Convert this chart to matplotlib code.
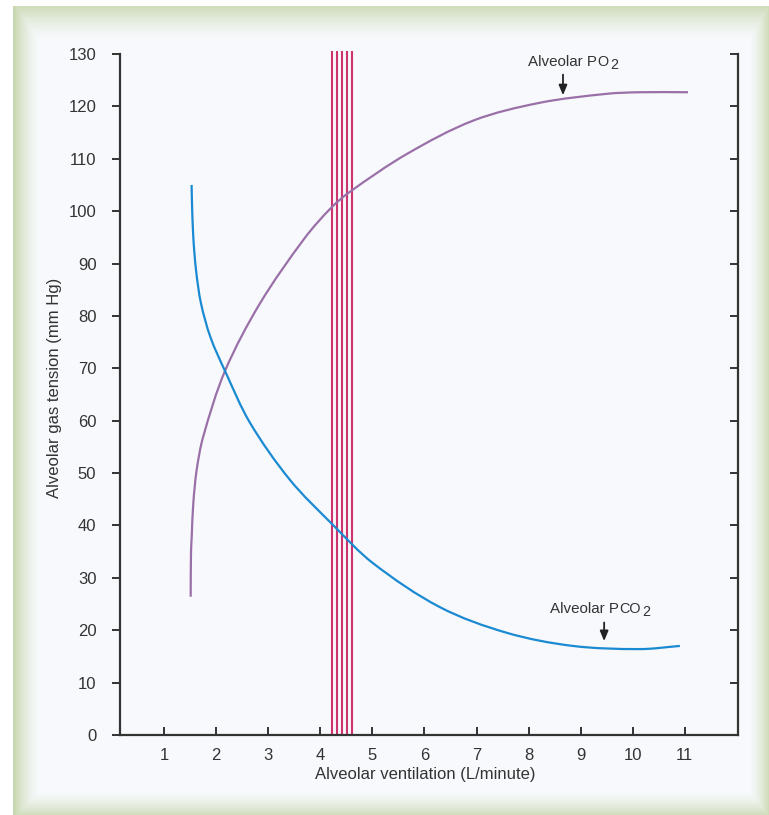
import numpy as np
import matplotlib
matplotlib.use("Agg")
import matplotlib.pyplot as plt
from matplotlib.path import Path
from matplotlib.patches import PathPatch

# ---- data ----
po2_x = [1.512, 1.518, 1.532, 1.562, 1.627, 1.754, 2.171, 2.843, 3.697, 4.205, 4.570,
         5.660, 6.940, 8.221, 9.501, 10.140, 11.060]
po2_y = [26.4, 34.7, 37.9, 44.2, 50.6, 57.0, 69.5, 82.4, 94.8, 100.6, 103.7,
         110.9, 117.3, 120.7, 122.4, 122.7, 122.7]

pco2_x = [1.530, 1.537, 1.562, 1.614, 1.710, 1.893, 2.171, 2.651, 3.418, 4.244, 5.012,
          6.298, 7.584, 8.851, 10.137, 10.904]
pco2_y = [105.0, 101.6, 95.1, 88.8, 82.4, 75.9, 69.5, 59.6, 48.7, 40.1, 32.8,
          24.4, 19.5, 17.0, 16.4, 17.0]

normal_x = [4.23, 4.33, 4.42, 4.51, 4.60]

x_ticks = list(range(1, 12))
y_ticks = list(range(0, 131, 10))

PURPLE = "#9a70a8"
BLUE = "#1a8ad2"
CRIMSON = "#cc336f"
INK = "#333333"
FONT = "Liberation Sans"

W, H = 769, 815
fig = plt.figure(figsize=(W / 100, H / 100), dpi=100)
fig.patch.set_facecolor("white")

# ---- decorative frame (gradient) ----
bg = fig.add_axes([0, 0, 1, 1], zorder=-10)
yy, xx = np.mgrid[0:H, 0:W].astype(float)
inner = np.array([0.973, 0.980, 0.992])
green = np.array([0.78, 0.84, 0.68])
L, T, R, B = 13, 6, W, H
def band(d, w):
    return np.clip(1 - d / w, 0, 1) ** 1.6
t = np.maximum.reduce([band(xx - L, 28) * 1.0, band(yy - T, 36) * 0.85,
                       band(R - xx, 22) * 0.9, band(B - yy, 26) * 0.85])
img = inner[None, None, :] * (1 - t[..., None]) + green[None, None, :] * t[..., None]
outside = (xx < L) | (yy < T)
img[outside] = 1.0
bg.imshow(img, extent=[0, W, H, 0], aspect="auto", interpolation="bilinear")
bg.set_xlim(0, W)
bg.set_ylim(H, 0)
bg.axis("off")

# ---- main axes ----
ax = fig.add_axes([120 / W, 1 - 735 / H, (738 - 120) / W, (735 - 54) / H])
ax.patch.set_alpha(0)
ax.set_xlim(0.155, 12.02)
ax.set_ylim(0, 130)

for xv in normal_x:
    ax.plot([xv, xv], [0, 130.6], color=CRIMSON, lw=1.5, solid_capstyle="butt",
            clip_on=False, zorder=2)


def smooth_path(xs, ys, sx=52.1, sy=5.238):
    """Bezier path passing through the read points (chord-length cardinal spline)."""
    P = np.column_stack([xs, ys]).astype(float)
    D = P * np.array([sx, sy])
    seg = np.linalg.norm(np.diff(D, axis=0), axis=1)
    tt = np.concatenate([[0], np.cumsum(seg)])
    n = len(P)
    M = np.zeros_like(P)
    for i in range(n):
        a, b = max(i - 1, 0), min(i + 1, n - 1)
        M[i] = (P[b] - P[a]) / (tt[b] - tt[a])
    verts = [P[0]]
    codes = [Path.MOVETO]
    for i in range(n - 1):
        h = tt[i + 1] - tt[i]
        verts += [P[i] + M[i] * h / 3, P[i + 1] - M[i + 1] * h / 3, P[i + 1]]
        codes += [Path.CURVE4] * 3
    return Path(verts, codes)


ax.add_patch(PathPatch(smooth_path(po2_x, po2_y), fill=False, edgecolor=PURPLE, lw=1.6,
                       transform=ax.transData, zorder=3))
ax.add_patch(PathPatch(smooth_path(pco2_x, pco2_y), fill=False, edgecolor=BLUE, lw=1.6,
                       transform=ax.transData, zorder=3))

for side in ["left", "right", "bottom"]:
    ax.spines[side].set_color(INK)
    ax.spines[side].set_linewidth(1.6)
ax.spines["top"].set_visible(False)

ax.set_xticks(x_ticks)
ax.set_yticks(y_ticks)
ax.tick_params(axis="x", direction="in", length=6, width=1.4, color=INK, pad=9,
               labelsize=12, labelcolor=INK)
ax.tick_params(axis="y", direction="out", length=6, width=1.4, color=INK, pad=11,
               labelsize=12, labelcolor=INK)
for lab in ax.get_xticklabels() + ax.get_yticklabels():
    lab.set_fontfamily(FONT)

# right side inward ticks
axr = ax.secondary_yaxis("right")
axr.set_yticks(y_ticks)
axr.tick_params(axis="y", direction="in", length=6, width=1.4, color=INK, labelright=False)
axr.spines["right"].set_visible(False)

fig.text(425 / W, 1 - 775 / H, "Alveolar ventilation (L/minute)", ha="center", va="center",
         fontsize=12, color=INK, fontfamily=FONT)
fig.text(55 / W, 1 - 388 / H, "Alveolar gas tension (mm Hg)", ha="center", va="center",
         rotation=90, fontsize=12, color=INK, fontfamily=FONT)


def gas_label(x_text, y_text, letters):
    t1 = ax.text(x_text, y_text, "Alveolar P", ha="right", va="baseline", fontsize=10.9,
                 color=INK, fontfamily=FONT)
    t2 = ax.annotate(letters, xy=(1, 0), xycoords=t1, xytext=(0.4, 0), textcoords="offset points",
                     ha="left", va="bottom", fontsize=10.4, color=INK, fontfamily=FONT)
    ax.annotate("2", xy=(1, 0), xycoords=t2, xytext=(1.2, -2.3), textcoords="offset points",
                ha="left", va="bottom", fontsize=10.4, color=INK, fontfamily=FONT)


# Alveolar PO2 label + arrow
gas_label(9.31, 127.7, "O")
ax.annotate("", xy=(8.66, 121.6), xytext=(8.66, 126.6),
            arrowprops=dict(arrowstyle="-|>,head_length=0.6,head_width=0.25", color="#222222", lw=1.3))

# Alveolar PCO2 label + arrow
gas_label(9.73, 23.3, "CO")
ax.annotate("", xy=(9.45, 17.4), xytext=(9.45, 22.0),
            arrowprops=dict(arrowstyle="-|>,head_length=0.6,head_width=0.25", color="#222222", lw=1.3))

fig.savefig("out.png", dpi=100)
